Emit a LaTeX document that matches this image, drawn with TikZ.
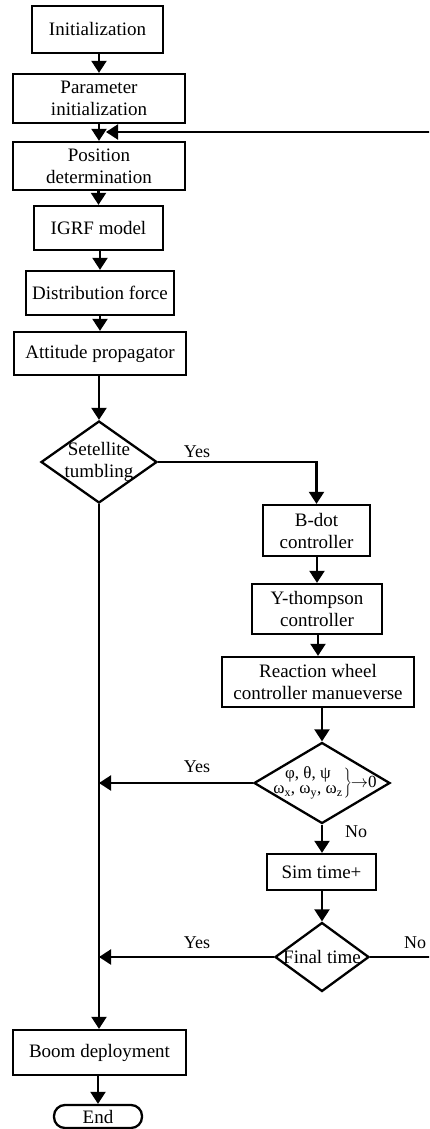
\documentclass[tikz,border=0pt]{standalone}
\usepackage{fontspec}
\setmainfont{Liberation Serif}
\usetikzlibrary{arrows.meta,shapes.geometric}
\begin{document}
\begin{tikzpicture}[x=1pt,y=-1pt,
  every node/.style={font=\fontsize{19}{22}\selectfont},
  box/.style={draw,line width=2.3pt,inner sep=0pt,align=center},
  dia/.style={draw,diamond,line width=2.3pt,inner sep=0pt},
  lbl/.style={font=\fontsize{18}{20}\selectfont,inner sep=0pt},
  conn/.style={line width=2.2pt,-{Triangle[width=15pt,length=12pt]}}]
\useasboundingbox (0,0) rectangle (429,1129);
\clip (0,0) rectangle (429,1129);
% boxes
\node[box,minimum width=131pt,minimum height=47pt] (init) at (97.5,29.5) {Initialization};
\node[box,minimum width=172pt,minimum height=49pt] (param) at (99,98.5) {Parameter\\initialization};
\node[box,minimum width=172pt,minimum height=48pt] (pos) at (99,166) {Position\\determination};
\node[box,minimum width=129pt,minimum height=44pt] (igrf) at (98.5,228) {IGRF model};
\node[box,minimum width=148pt,minimum height=44pt] (dist) at (100,293) {Distribution force};
\node[box,minimum width=172pt,minimum height=43pt] (att) at (100,353.5) {Attitude propagator};
\node[dia,minimum width=116pt,minimum height=82pt] (d1) at (99,462) {};
\node[align=center,inner sep=0pt] (d1t) at (99,462) {Setellite\\tumbling};
\node[box,minimum width=107pt,minimum height=51pt] (bdot) at (316.5,530.5) {B-dot\\controller};
\node[box,minimum width=130pt,minimum height=50pt] (yth) at (317,609) {Y-thompson\\controller};
\node[box,minimum width=192pt,minimum height=50pt] (rw) at (318,682) {Reaction wheel\\controller manueverse};
\node[dia,minimum width=136pt,minimum height=81pt] (d2) at (322,783) {};
\node[inner sep=0pt] (d2t) at (325,783) {\fontsize{17}{17}\selectfont\begin{tabular}{@{}c@{}}φ, θ, ψ\\[-2pt]ω\textsubscript{x}, ω\textsubscript{y}, ω\textsubscript{z}\end{tabular}$\left.\vphantom{\begin{tabular}{c}x\\[-2pt]x\end{tabular}}\right\}\!\!\rightarrow$0};
\node[box,minimum width=109pt,minimum height=36pt] (sim) at (321.5,872) {Sim time+};
\node[dia,minimum width=94pt,minimum height=69pt] (d3) at (322,957) {};
\node[inner sep=0pt] (d3t) at (322,957) {Final time};
\node[box,minimum width=173pt,minimum height=45pt] (boom) at (99.5,1052.5) {Boom deployment};
\node[box,rounded corners=11pt,minimum width=88pt,minimum height=23pt] (end) at (98,1116.5) {End};
% coordinates
\coordinate (join) at (106,132);
\coordinate (m2) at (99,783);
\coordinate (m3) at (99,957);
\coordinate (rt) at (436,957);
\coordinate (rtop) at (436,132);
% connectors
\draw[conn] (init.south -| param.north) -- (param.north);
\draw[conn] (param) -- (pos);
\draw[conn] (pos.south -| igrf.north) -- (igrf.north);
\draw[conn] (igrf.south -| dist.north) -- (dist.north);
\draw[conn] (dist) -- (att);
\draw[conn] (att.south -| d1.north) -- (d1.north);
\draw[conn] (d1.east) -| (bdot.north);
\draw[conn] (bdot.south -| yth.north) -- (yth.north);
\draw[conn] (yth.south -| rw.north) -- (rw.north);
\draw[conn] (rw.south -| d2.north) -- (d2.north);
\draw[conn] (d2.south) -- (sim.north -| d2.south);
\draw[conn] (sim.south -| d3.north) -- (d3.north);
\draw[conn] (d2.west) -- (m2);
\draw[conn] (d3.west) -- (m3);
\draw[conn] (d1.south) -- (boom.north -| d1.south);
\draw[conn] (boom.south -| end.north) -- (end.north);
\draw[conn] (d3.east) -- (rt) -- (rtop) -- (join);
% labels
\node[lbl] (y1) at (197,452) {Yes};
\node[lbl] (y2) at (197,767) {Yes};
\node[lbl] (n2) at (356,832) {No};
\node[lbl] (y3) at (197,943) {Yes};
\node[lbl] (n3) at (415,943) {No};
\end{tikzpicture}
\end{document}
